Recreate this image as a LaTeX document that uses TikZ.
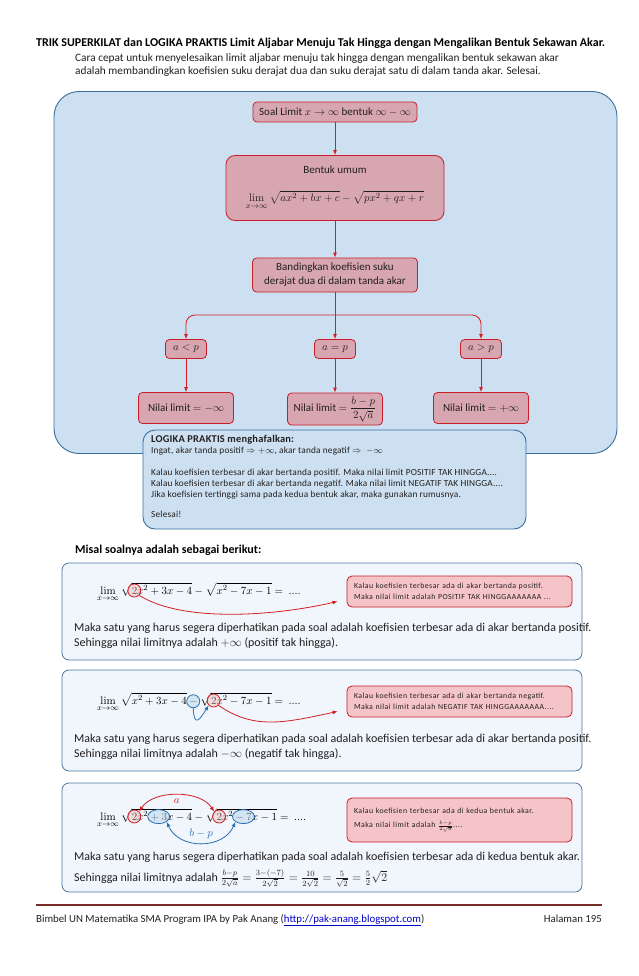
\documentclass[tikz,border=0pt]{standalone}
\usepackage{amsmath}
\usepackage[no-math]{fontspec}
\setmainfont{Carlito}
\usetikzlibrary{arrows.meta,shapes.geometric}

\definecolor{panelfill}{RGB}{204,224,241}
\definecolor{paneldraw}{RGB}{58,110,160}
\definecolor{cellfill}{RGB}{216,166,176}
\definecolor{celldraw}{RGB}{200,30,40}
\definecolor{arrowred}{RGB}{210,30,35}
\definecolor{exfill}{RGB}{240,246,251}
\definecolor{exdraw}{RGB}{75,120,165}
\definecolor{notefill}{RGB}{245,196,201}
\definecolor{ovalfill}{RGB}{188,214,238}
\definecolor{ovaldraw}{RGB}{40,110,180}
\definecolor{footline}{RGB}{122,44,40}
\definecolor{urlblue}{RGB}{0,0,200}
\definecolor{textgray}{RGB}{35,31,32}

\newcommand\bodysize{\fontsize{11.3}{15}\selectfont}
\newcommand\exsize{\fontsize{12}{15}\selectfont}
\newcommand\flowsize{\fontsize{11}{14}\selectfont}
\newcommand\smallsize{\fontsize{9.3}{11}\selectfont\addfontfeatures{LetterSpace=2}}
\newcommand\notesize{\fontsize{7.8}{10.5}\selectfont\addfontfeatures{LetterSpace=6}}
\newcommand\fmlsize{\fontsize{11}{14}\selectfont}
\newcommand\fml[1]{{\fmlsize$\displaystyle#1$}}
\newcommand\lm{\lim_{x\to\infty}}

\newlength\wtwo \newlength\wpre
\newlength\wA \newlength\wB \newlength\wC \newlength\wD
\newlength\wE \newlength\wF \newlength\wG \newlength\wH
\newlength\xdua \newlength\xminus \newlength\xduab
\newlength\xplus \newlength\xduac \newlength\xtujuh

\begin{document}
\begin{tikzpicture}[x=1pt,y=-1pt]

\tikzstyle{panel}=[rectangle,draw=paneldraw,fill=panelfill,line width=0.9pt,rounded corners=25pt,inner sep=0pt]
\tikzstyle{cell}=[rectangle,draw=celldraw,fill=cellfill,line width=0.8pt,rounded corners=4pt,inner sep=2pt,font=\flowsize,text=textgray]
\tikzstyle{arr}=[draw=arrowred,line width=0.8pt,-{Latex[length=5pt,width=4pt]}]
\tikzstyle{example}=[rectangle,draw=exdraw,fill=exfill,line width=0.8pt,rounded corners=7pt,inner sep=0pt]
\tikzstyle{note}=[rectangle,draw=celldraw,fill=notefill,line width=0.8pt,rounded corners=5pt,font=\notesize,align=left,inner xsep=7pt,inner ysep=0pt,text=textgray]
\tikzstyle{ring}=[circle,draw=arrowred,fill=arrowred!30,fill opacity=0.45,line width=0.8pt,minimum size=13pt,inner sep=0pt]
\tikzstyle{oval}=[ellipse,draw=ovaldraw,fill=ovalfill,fill opacity=0.55,line width=0.8pt,minimum width=22pt,minimum height=14pt,inner sep=0pt]
\tikzstyle{redarc}=[draw=arrowred,line width=0.8pt]
\tikzstyle{bluearc}=[draw=ovaldraw,line width=0.8pt]

% where the marked terms sit inside the formulas
\settowidth\wtwo{\fml{2}}
\settowidth\wpre{\fml{\lm\sqrt{\vphantom{2x^2+3x-4}}}}
\settowidth\wA{\fml{\lm\sqrt{x^2+3x-4}}}
\settowidth\wB{\fml{\lm\sqrt{x^2+3x-4}-{}}}
\settowidth\wC{\fml{\lm\sqrt{x^2+3x-4}-\sqrt{\vphantom{2x^2-7x-1}}}}
\settowidth\wD{\fml{\lm\sqrt{\vphantom{2x^2+3x-4}}2x^2}}
\settowidth\wE{\fml{\lm\sqrt{\vphantom{2x^2+3x-4}}2x^2+3}}
\settowidth\wF{\fml{\lm\sqrt{2x^2+3x-4}-\sqrt{\vphantom{2x^2-7x-1}}}}
\settowidth\wG{\fml{\lm\sqrt{2x^2+3x-4}-\sqrt{\vphantom{2x^2-7x-1}}2x^2}}
\settowidth\wH{\fml{\lm\sqrt{2x^2+3x-4}-\sqrt{\vphantom{2x^2-7x-1}}2x^2-7}}
\setlength\xdua{\dimexpr\wpre+\wtwo/2\relax}
\setlength\xminus{\dimexpr(\wA+\wB)/2\relax}
\setlength\xduab{\dimexpr\wC+\wtwo/2\relax}
\setlength\xplus{\dimexpr(\wD+\wE)/2+1.2pt\relax}
\setlength\xduac{\dimexpr\wF+\wtwo/2\relax}
\setlength\xtujuh{\dimexpr(\wG+\wH)/2+1.2pt\relax}

\fill[white] (0,0) rectangle (638,976);
\useasboundingbox (0,0) rectangle (638,976);

% multi-line texts are placed by the baseline of their last line
\node[anchor=base west,inner sep=0pt,font=\bfseries\fontsize{12}{14}\selectfont] (judul) at (36,47) {TRIK SUPERKILAT dan LOGIKA PRAKTIS Limit Aljabar Menuju Tak Hingga dengan Mengalikan Bentuk Sekawan Akar.};
\node[anchor=base west,inner sep=0pt,font=\bodysize\linespread{0.93}\selectfont,align=left,text=textgray] (intro) at (75,75) {Cara cepat untuk menyelesaikan limit aljabar menuju tak hingga dengan mengalikan bentuk sekawan akar\\adalah membandingkan koefisien suku derajat dua dan suku derajat satu di dalam tanda akar. Selesai.};

% flow chart
\node[panel,minimum width=563pt,minimum height=362pt] (panel) at (335.5,272.5) {};

\node[cell,minimum width=164pt,minimum height=20pt] (soal) at (335,112) {Soal Limit $x\to\infty$ bentuk $\infty-\infty$};
\node[cell,minimum width=218pt,minimum height=65pt,align=center,rounded corners=9pt] (umum) at (335,188) {Bentuk umum\\[14pt] $\displaystyle\lim_{x\to\infty}\sqrt{ax^2+bx+c}-\sqrt{px^2+qx+r}$};
\node[cell,minimum width=165pt,minimum height=34pt,align=center] (banding) at (335,275) {Bandingkan koefisien suku\\derajat dua di dalam tanda akar};

\node[cell,minimum width=41pt,minimum height=19pt] (kurang) at (186,349) {$a<p$};
\node[cell,minimum width=41pt,minimum height=19pt] (sama)   at (335,349) {$a=p$};
\node[cell,minimum width=41pt,minimum height=19pt] (lebih)  at (481,349) {$a>p$};

\node[cell,minimum width=95pt,minimum height=31pt] (hasilkiri)   at (186,408) {Nilai limit $=-\infty$};
\node[cell,minimum width=95pt,minimum height=32pt] (hasiltengah) at (335,409) {Nilai limit $=\dfrac{b-p}{2\sqrt{a}}$};
\node[cell,minimum width=95pt,minimum height=31pt] (hasilkanan)  at (481,408) {Nilai limit $=+\infty$};

\coordinate (cabang) at (335,315);

\draw[arr] (soal) -- (umum);
\draw[arr] (umum) -- (banding);
\draw[arr] (banding) -- (sama);
\draw[arr,rounded corners=9pt] (cabang) -| (kurang.north);
\draw[arr,rounded corners=9pt] (cabang) -| (lebih.north);
\draw[arr] (kurang) -- (hasilkiri);
\draw[arr] (sama) -- (hasiltengah);
\draw[arr] (lebih) -- (hasilkanan);

% logika praktis
\node[panel,rounded corners=12pt,minimum width=383pt,minimum height=99pt] (logika) at (334.5,479.5) {};
\node[anchor=base west,inner sep=0pt,align=left,font=\smallsize,text=textgray] (logikateks) at (151,517) {{\bfseries\fontsize{10.4}{11}\selectfont LOGIKA PRAKTIS menghafalkan:}\\
Ingat, akar tanda positif $\Rightarrow +\infty$, akar tanda negatif $\Rightarrow\ -\infty$\\[11pt]
Kalau koefisien terbesar di akar bertanda positif. Maka nilai limit POSITIF TAK HINGGA....\\
Kalau koefisien terbesar di akar bertanda negatif. Maka nilai limit NEGATIF TAK HINGGA....\\
Jika koefisien tertinggi sama pada kedua bentuk akar, maka gunakan rumusnya.\\[9pt]
Selesai!};

\node[anchor=base west,inner sep=0pt,font=\bfseries\fontsize{12}{14}\selectfont] (misal) at (75,553) {Misal soalnya adalah sebagai berikut:};

% contoh 1
\node[example,minimum width=520pt,minimum height=97pt] (contoh1) at (322,611.5) {};
\node[anchor=base west,inner sep=0pt,font=\fmlsize] (rumus1) at (97,594) {$\displaystyle\lim_{x\to\infty}\sqrt{2x^2+3x-4}-\sqrt{x^2-7x-1}=\ ....$};
\node[ring] (dua1) at ([xshift=\xdua,yshift=3.5pt]rumus1.base west) {};
\node[note,text width=211pt,minimum height=31pt] (catatan1) at (459.5,591.5) {Kalau koefisien terbesar ada di akar bertanda positif.\\Maka nilai limit adalah POSITIF TAK HINGGAAAAAAA ...};
\draw[redarc,-{Latex[length=5pt,width=4pt]}] (dua1.south east) .. controls +(45,28) and +(-60,14) .. ([xshift=-9pt,yshift=6pt]catatan1.south west);
\node[anchor=base west,inner sep=0pt,font=\exsize,align=left,text=textgray] (jelas1) at (74,646) {Maka satu yang harus segera diperhatikan pada soal adalah koefisien terbesar ada di akar bertanda positif.\\Sehingga nilai limitnya adalah $+\infty$ (positif tak hingga).};

% contoh 2
\node[example,minimum width=520pt,minimum height=101pt] (contoh2) at (322,720.5) {};
\node[anchor=base west,inner sep=0pt,font=\fmlsize] (rumus2) at (97,704) {$\displaystyle\lim_{x\to\infty}\sqrt{x^2+3x-4}-\sqrt{2x^2-7x-1}=\ ....$};
\node[oval,minimum width=13pt,minimum height=13pt] (kurang2) at ([xshift=\xminus,yshift=2.75pt]rumus2.base west) {};
\node[ring] (dua2) at ([xshift=\xduab,yshift=3.5pt]rumus2.base west) {};
\node[note,text width=211pt,minimum height=31pt] (catatan2) at (459.5,701.5) {Kalau koefisien terbesar ada di akar bertanda negatif.\\Maka nilai limit adalah NEGATIF TAK HINGGAAAAAAA....};
\draw[bluearc,-{Latex[length=5pt,width=4pt]}] (kurang2.south) .. controls +(1,20) and +(-9,14) .. (dua2.south west);
\draw[redarc,-{Latex[length=5pt,width=4pt]}] (dua2.south east) .. controls +(35,24) and +(-55,12) .. ([xshift=-9pt,yshift=6pt]catatan2.south west);
\node[anchor=base west,inner sep=0pt,font=\exsize,align=left,text=textgray] (jelas2) at (74,757) {Maka satu yang harus segera diperhatikan pada soal adalah koefisien terbesar ada di akar bertanda positif.\\Sehingga nilai limitnya adalah $-\infty$ (negatif tak hingga).};

% contoh 3
\node[example,minimum width=520pt,minimum height=109pt] (contoh3) at (322,837.5) {};
\node[anchor=base west,inner sep=0pt,font=\fmlsize] (rumus3) at (97,820) {$\displaystyle\lim_{x\to\infty}\sqrt{2x^2+3x-4}-\sqrt{2x^2-7x-1}=\ ....$};
\node[ring] (dua3a) at ([xshift=\xdua,yshift=3.5pt]rumus3.base west) {};
\node[oval] (tiga3) at ([xshift=\xplus,yshift=3.4pt]rumus3.base west) {};
\node[ring] (dua3b) at ([xshift=\xduac,yshift=3.5pt]rumus3.base west) {};
\node[oval] (tujuh3) at ([xshift=\xtujuh,yshift=3.4pt]rumus3.base west) {};
\draw[redarc,{Latex[length=5pt,width=4pt]}-{Latex[length=5pt,width=4pt]}] (dua3a.north east) .. controls +(14,-22) and +(-14,-22) .. (dua3b.north west) node[midway,below=0pt,text=arrowred,font=\fmlsize] {$a$};
\draw[bluearc,{Latex[length=5pt,width=4pt]}-{Latex[length=5pt,width=4pt]}] (tiga3.south east) .. controls +(12,28) and +(-12,28) .. (tujuh3.south west) node[midway,above=0pt,text=ovaldraw,font=\fmlsize] {$b-p$};
\node[note,text width=211pt,minimum height=44pt] (catatan3) at (459.5,820) {Kalau koefisien terbesar ada di kedua bentuk akar.\\[4pt]Maka nilai limit adalah $\frac{b-p}{2\sqrt{a}}$....};
\node[anchor=base west,inner sep=0pt,font=\exsize,align=left,text=textgray] (jelas3) at (74,881) {Maka satu yang harus segera diperhatikan pada soal adalah koefisien terbesar ada di kedua bentuk akar.\\[6pt]Sehingga nilai limitnya adalah $\frac{b-p}{2\sqrt{a}}=\frac{3-(-7)}{2\sqrt{2}}=\frac{10}{2\sqrt{2}}=\frac{5}{\sqrt{2}}=\frac{5}{2}\sqrt{2}$};

% footer
\draw[footline,line width=2.5pt] (36,905) -- (602,905);
\node[anchor=base west,inner sep=0pt,font=\fontsize{10.8}{13}\selectfont,text=textgray] (kaki) at (36,922) {Bimbel UN Matematika SMA Program IPA by Pak Anang (\textcolor{urlblue}{\underline{http://pak-anang.blogspot.com}})};
\node[anchor=base east,inner sep=0pt,font=\fontsize{10.8}{13}\selectfont,text=textgray] (halaman) at (602,922) {Halaman 195};

\end{tikzpicture}
\end{document}
